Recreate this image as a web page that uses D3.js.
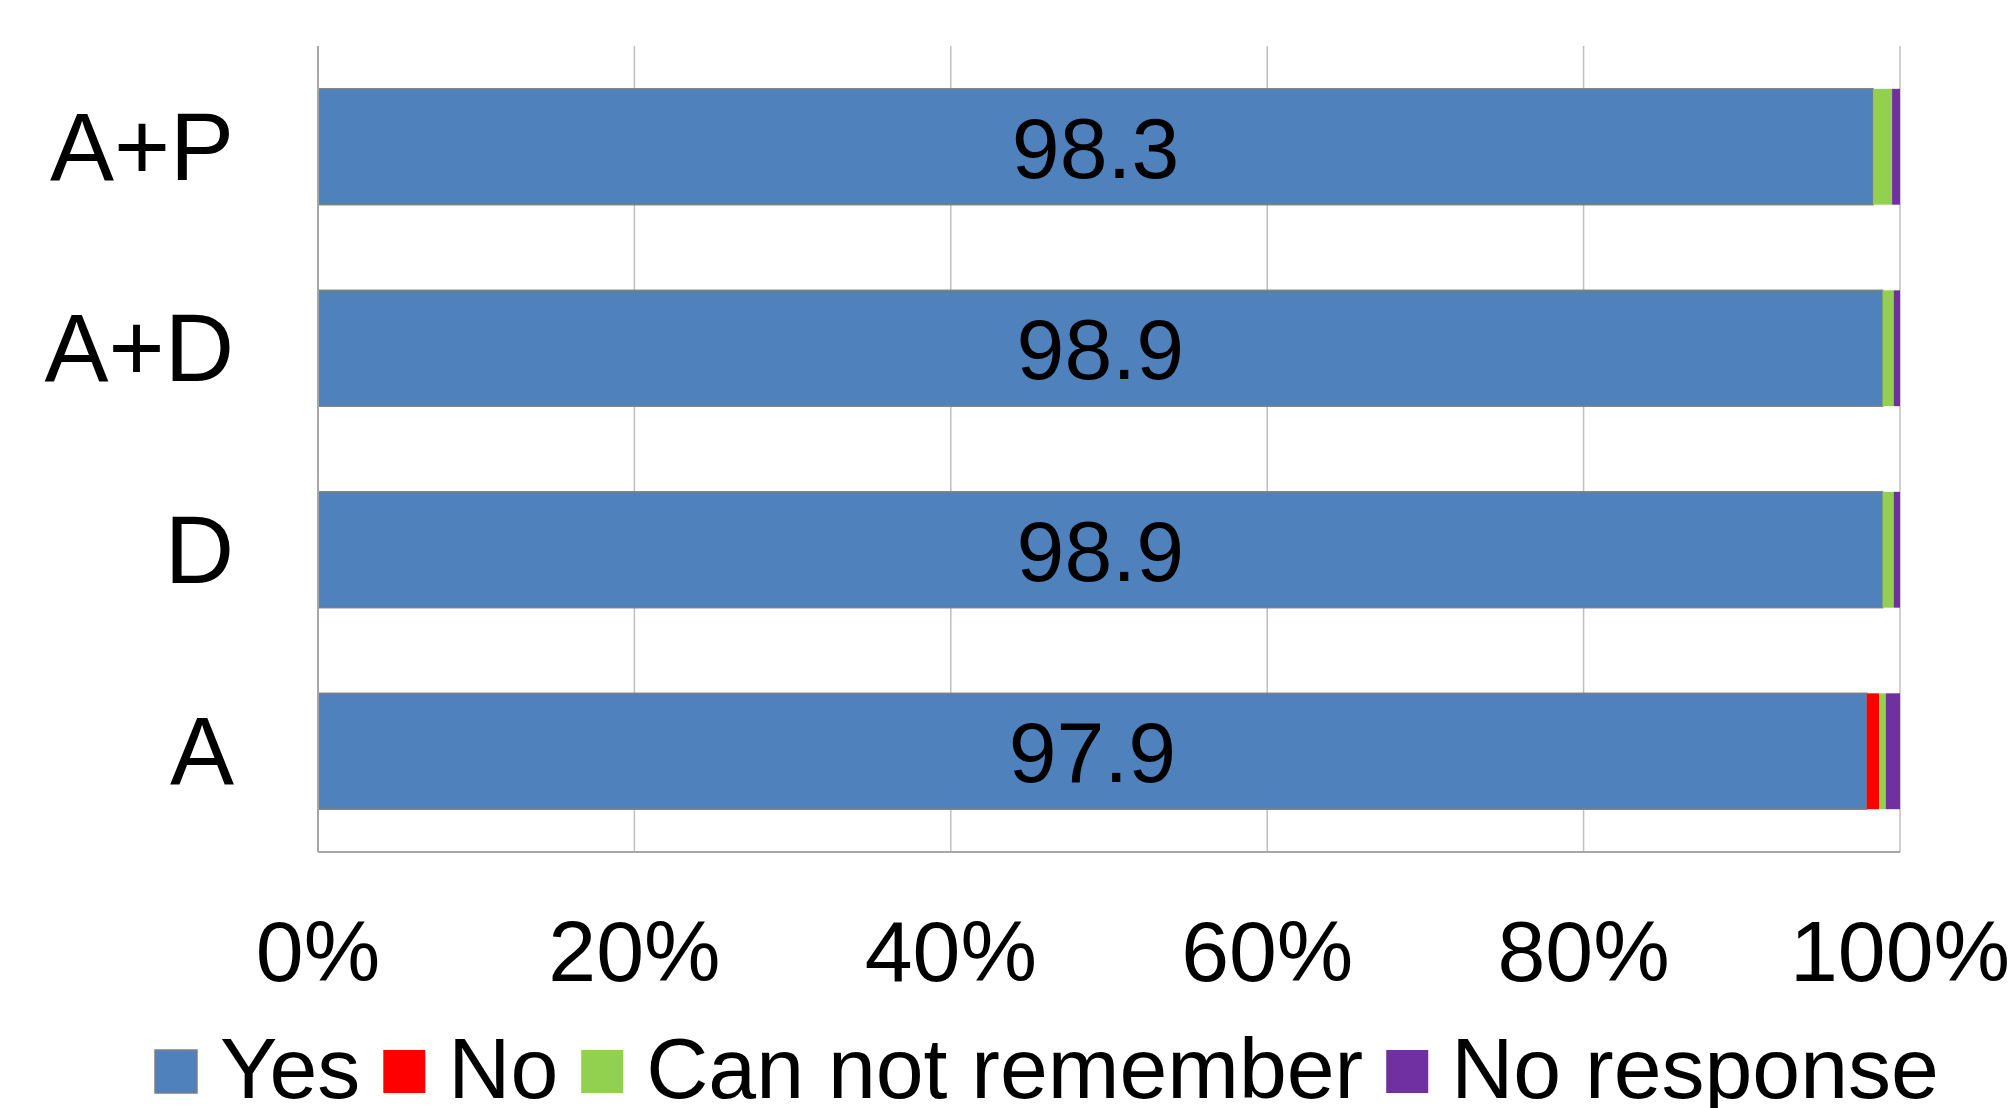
<!DOCTYPE html>
<html lang="en">
  <head>
    <meta charset="utf-8">
    <title>Stacked percentage bars</title>
    <script src="https://d3js.org/d3.v7.min.js"></script>
    <style>
      body { margin: 0; background: white; }
      text { font-family: "Liberation Sans", Arial, sans-serif; fill: black; }
    </style>
  </head>
  <body>
    <svg width="2015" height="1108"></svg>
    <script>
      // data
      var categories = ["A+P", "A+D", "D", "A"];
      var seriesNames = ["Yes", "No", "Can not remember", "No response"];
      var seriesColors = ["#4F81BD", "#FF0000", "#92D050", "#7030A0"];
      var yesValues = [98.3, 98.9, 98.9, 97.9];
      var noValues = [0, 0, 0, 0.8];
      var cantValues = [1.2, 0.7, 0.7, 0.4];
      var noRespValues = [0.5, 0.4, 0.4, 0.9];
      var tickValues = [0, 20, 40, 60, 80, 100];

      var svg = d3.select("svg");
      var plotLeft = 318, plotRight = 1900, plotTop = 46, plotBottom = 852;

      var x = d3.scaleLinear().domain([0, 100]).range([plotLeft, plotRight]);
      var y = d3.scaleBand().domain(categories).range([plotTop, plotBottom])
        .paddingInner(0.425).paddingOuter(0.2125);

      var rows = categories.map(function(c, i) {
        return { cat: c, Yes: yesValues[i], No: noValues[i],
          "Can not remember": cantValues[i], "No response": noRespValues[i] };
      });
      var stacked = d3.stack().keys(seriesNames)(rows);

      // gridlines
      svg.append("g").selectAll("line").data(tickValues).enter().append("line")
        .attr("x1", function(d) { return x(d); }).attr("x2", function(d) { return x(d); })
        .attr("y1", plotTop).attr("y2", plotBottom)
        .attr("stroke", "#BFBFBF").attr("stroke-width", 1.5);

      // bars
      stacked.forEach(function(layer, k) {
        svg.append("g").selectAll("rect").data(layer).enter().append("rect")
          .attr("x", function(d) { return x(d[0]); })
          .attr("width", function(d) { return x(d[1]) - x(d[0]); })
          .attr("y", function(d) { return y(d.data.cat); })
          .attr("height", y.bandwidth())
          .attr("fill", seriesColors[k])
          .attr("stroke", k == 0 ? "#7F7F7F" : "none")
          .attr("stroke-width", k == 0 ? 1.5 : 0);
      });

      // axis lines
      svg.append("line").attr("x1", plotLeft).attr("x2", plotLeft)
        .attr("y1", plotTop).attr("y2", plotBottom)
        .attr("stroke", "#A6A6A6").attr("stroke-width", 2);
      svg.append("line").attr("x1", plotLeft).attr("x2", plotRight)
        .attr("y1", plotBottom).attr("y2", plotBottom)
        .attr("stroke", "#A6A6A6").attr("stroke-width", 2);

      // value labels
      svg.append("g").selectAll("text").data(stacked[0]).enter().append("text")
        .attr("x", function(d) { return (x(d[0]) + x(d[1])) / 2; })
        .attr("y", function(d) { return y(d.data.cat) + y.bandwidth() / 2 + 31; })
        .attr("text-anchor", "middle").attr("font-size", 86)
        .text(function(d) { return d3.format(".1f")(d[1] - d[0]); });

      // category labels
      svg.append("g").selectAll("text").data(categories).enter().append("text")
        .attr("x", 234)
        .attr("y", function(d) { return y(d) + y.bandwidth() / 2 + 33; })
        .attr("text-anchor", "end").attr("font-size", 96)
        .text(function(d) { return d; });

      // tick labels
      svg.append("g").selectAll("text").data(tickValues).enter().append("text")
        .attr("x", function(d) { return x(d); })
        .attr("y", 981)
        .attr("text-anchor", "middle").attr("font-size", 86)
        .text(function(d) { return d + "%"; });

      // legend
      var lx = 155;
      var legend = svg.append("g");
      seriesNames.forEach(function(name, i) {
        legend.append("rect").attr("x", lx).attr("y", 1050).attr("width", 42).attr("height", 43)
          .attr("fill", seriesColors[i])
          .attr("stroke", i == 0 ? "#7F7F7F" : "none").attr("stroke-width", 1.5);
        var t = legend.append("text").attr("x", lx + 65).attr("y", 1098)
          .attr("font-size", 86).text(name);
        lx = lx + 65 + t.node().getComputedTextLength() + 23;
      });
    </script>
  </body>
</html>
